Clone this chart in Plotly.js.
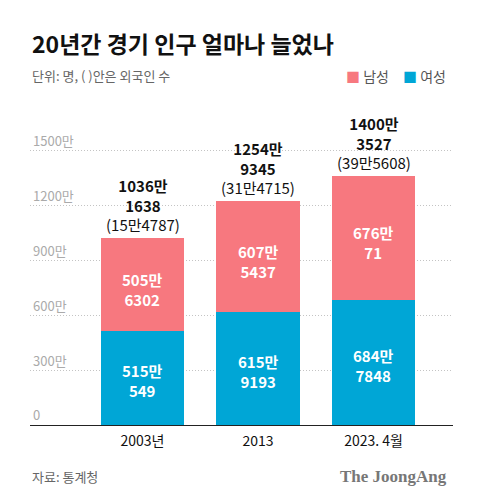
<!DOCTYPE html>
<html>
<head>
<meta charset="utf-8">
<script src="https://cdn.plot.ly/plotly-3.0.1.min.js"></script>
<style>html,body{margin:0;padding:0;background:#fff;}#chart{width:480px;height:503px;}</style>
</head>
<body>
<div id="chart"></div>
<script>
// Data
const categories = ['2003년', '2013', '2023. 4월'];
const female = [5150549, 6159193, 6847848];   // 여성
const male = [5056302, 6075437, 6760071];     // 남성
const foreign = [154787, 314715, 395608];     // 외국인 수
const yTickVals = [0, 3000000, 6000000, 9000000, 12000000, 15000000];
const yTickText = ['0', '300만', '600만', '900만', '1200만', '1500만'];

const PINK = '#F7787F';
const BLUE = '#00A6D6';
const FONT = '"Noto Sans CJK KR", "Noto Sans", sans-serif';

function man(v) { return Math.floor(v / 10000) + '만'; }
function fmt(v) { return man(v) + '<br>' + (v % 10000); }
function fmtInline(v) { return man(v) + (v % 10000); }

const totals = categories.map((c, i) => female[i] + male[i] + foreign[i]);

const traces = [
  {type: 'bar', name: '여성', x: categories, y: female, marker: {color: BLUE}, width: 0.72, hoverinfo: 'none'},
  {type: 'bar', name: '남성', x: categories, y: male, marker: {color: PINK}, width: 0.72, hoverinfo: 'none'}
];

const annotations = [];
categories.forEach((c, i) => {
  annotations.push({
    x: i, y: female[i] + male[i], xref: 'x', yref: 'y',
    yanchor: 'bottom', xanchor: 'center', yshift: 1, showarrow: false,
    text: '<b>' + fmt(totals[i]) + '</b><br>(' + fmtInline(foreign[i]) + ')',
    font: {size: 15, color: '#111', family: FONT}
  });
  annotations.push({
    x: i, y: female[i] / 2, xref: 'x', yref: 'y', yanchor: 'middle', yshift: -3, showarrow: false,
    text: '<b>' + fmt(female[i]) + '</b>', font: {size: 15, color: '#fff', family: FONT}
  });
  annotations.push({
    x: i, y: female[i] + male[i] / 2, xref: 'x', yref: 'y', yanchor: 'middle', yshift: -5, showarrow: false,
    text: '<b>' + fmt(male[i]) + '</b>', font: {size: 15, color: '#fff', family: FONT}
  });
});

annotations.push(
  {xref: 'paper', yref: 'paper', x: 0, y: 1.266, xanchor: 'left', yanchor: 'middle', showarrow: false,
   text: '<b>20년간 경기 인구 얼마나 늘었나</b>', font: {size: 23, color: '#111', family: FONT}},
  {xref: 'paper', yref: 'paper', x: 0, y: 1.157, xanchor: 'left', yanchor: 'middle', showarrow: false,
   text: '단위: 명, ( )안은 외국인 수', font: {size: 13, color: '#666', family: FONT}},
  {xref: 'paper', yref: 'paper', x: 0.853, y: 1.157, xanchor: 'right', yanchor: 'middle', showarrow: false,
   text: '<span style="color:' + PINK + '">■</span> 남성', font: {size: 14, color: '#555', family: FONT}},
  {xref: 'paper', yref: 'paper', x: 0.988, y: 1.157, xanchor: 'right', yanchor: 'middle', showarrow: false,
   text: '<span style="color:' + BLUE + '">■</span> 여성', font: {size: 14, color: '#555', family: FONT}},
  {xref: 'paper', yref: 'paper', x: 0, y: -0.172, xanchor: 'left', yanchor: 'middle', showarrow: false,
   text: '자료: 통계청', font: {size: 13, color: '#666', family: FONT}},
  {xref: 'paper', yref: 'paper', x: 0.99, y: -0.172, xanchor: 'right', yanchor: 'middle', showarrow: false,
   text: '<b>The JoongAng</b>', font: {size: 17, color: '#777', family: '"Liberation Serif", "DejaVu Serif", serif'}}
);

const layout = {
  width: 480, height: 503,
  margin: {l: 30, r: 27, t: 122.5, b: 78},
  paper_bgcolor: '#fff', plot_bgcolor: '#fff',
  barmode: 'stack',
  showlegend: false,
  xaxis: {
    type: 'category', range: [-0.974, 2.688],
    showline: true, linecolor: '#222', linewidth: 1,
    ticks: '', tickfont: {size: 14, color: '#111', family: FONT},
    ticklabelstandoff: 3,
    showgrid: false, fixedrange: true
  },
  yaxis: {
    range: [0, 16500000], tickvals: yTickVals, ticktext: yTickText,
    ticklabelposition: 'inside top',
    tickfont: {size: 13, color: '#aaa', family: FONT},
    showgrid: true, gridcolor: '#c4c4c4', griddash: '1px,2px', gridwidth: 1,
    zeroline: false, showline: false, ticks: '', fixedrange: true
  },
  annotations: annotations,
  font: {family: FONT}
};

Plotly.newPlot('chart', traces, layout, {displayModeBar: false, staticPlot: true});
</script>
</body>
</html>
